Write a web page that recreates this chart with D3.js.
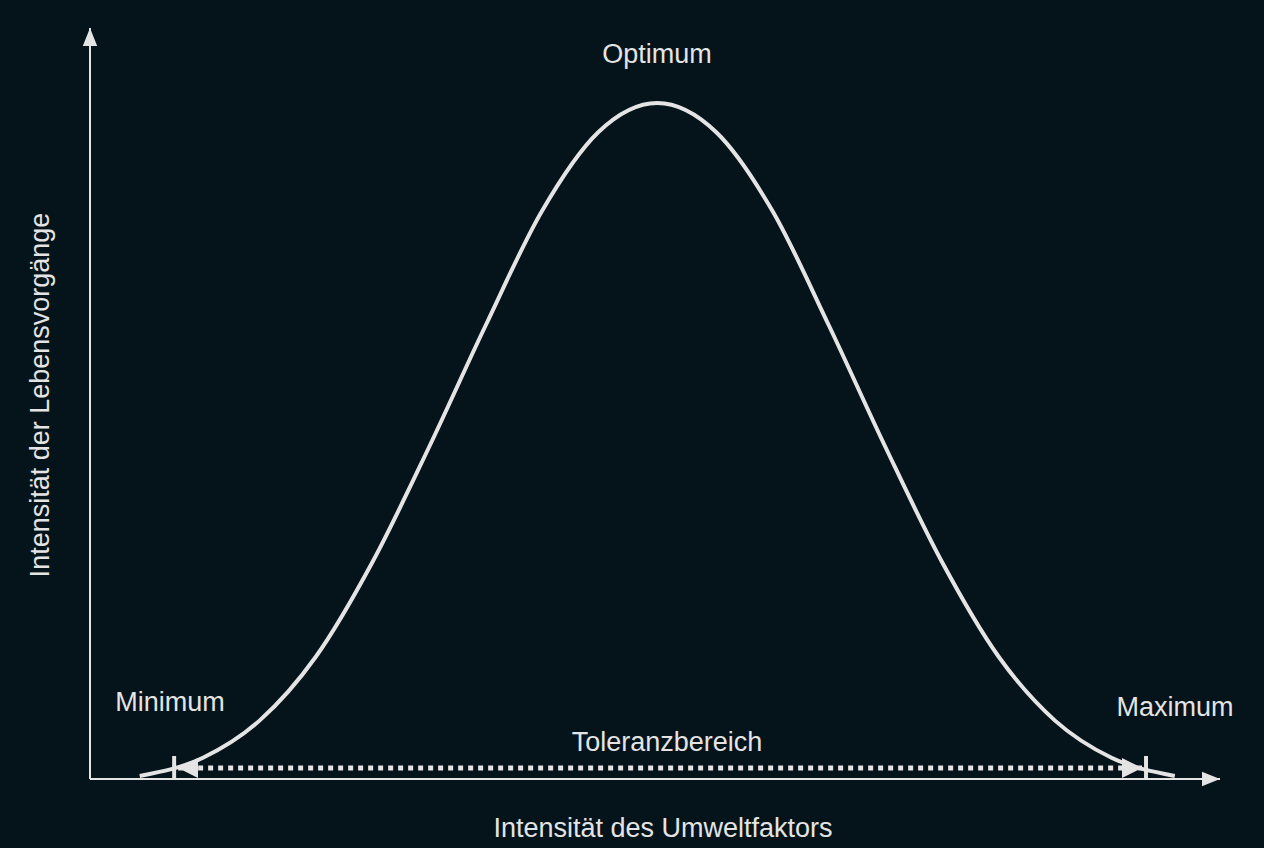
<!DOCTYPE html>
<html><head><meta charset="utf-8">
<script src="https://cdn.jsdelivr.net/npm/d3@7"></script>
<style>body{margin:0;background:#04141a;}svg{display:block}</style>
</head><body>
<script>
const xValues = [4.4, 10, 15, 20, 25, 30, 35, 40, 45, 50.2, 55.4, 60.4, 65.4, 70.4, 75.4, 80.4, 85.4, 90.4, 96];
const yValues = [0.3, 3, 8.5, 18, 32, 49, 67, 84, 95.7, 100, 95.7, 84, 67, 49, 32, 18, 8.5, 3, 0.3];
const toleranceRange = [7.8, 93.1];
const labels = {optimum:"Optimum", minimum:"Minimum", maximum:"Maximum", tol:"Toleranzbereich", xTitle:"Intensität des Umweltfaktors", yTitle:"Intensität der Lebensvorgänge"};

const W=1264,H=848, col="#e4e4e4";
const svg=d3.select("body").append("svg").attr("width",W).attr("height",H);
svg.append("rect").attr("width",W).attr("height",H).attr("fill","#04141a");
const x=d3.scaleLinear().domain([0,100]).range([90,1220]);
const y=d3.scaleLinear().domain([0,100]).range([778,103]);
const defs=svg.append("defs");
defs.append("marker").attr("id","ax").attr("viewBox","0 0 10 10").attr("refX",10).attr("refY",5)
 .attr("markerWidth",18).attr("markerHeight",18).attr("markerUnits","userSpaceOnUse").attr("orient","auto")
 .append("path").attr("d","M0,1 L10,5 L0,9 Z").attr("fill",col);
defs.append("marker").attr("id","tip").attr("viewBox","0 0 10 10").attr("refX",10).attr("refY",5)
 .attr("markerWidth",20).attr("markerHeight",20).attr("markerUnits","userSpaceOnUse").attr("orient","auto-start-reverse")
 .append("path").attr("d","M0,0 L10,5 L0,10 Z").attr("fill",col);
svg.append("line").attr("x1",x(0)).attr("y1",y(0)+1).attr("x2",x(0)).attr("y2",28).attr("stroke",col).attr("stroke-width",2).attr("marker-end","url(#ax)");
svg.append("line").attr("x1",x(0)).attr("y1",y(0)+1).attr("x2",x(100)).attr("y2",y(0)+1).attr("stroke",col).attr("stroke-width",2).attr("marker-end","url(#ax)");
const pts=xValues.map((v,i)=>[v,yValues[i]]);
svg.append("path").datum(pts).attr("d",d3.line().x(d=>x(d[0])).y(d=>y(d[1])).curve(d3.curveMonotoneX))
 .attr("fill","none").attr("stroke",col).attr("stroke-width",4);
const ty=768;
svg.append("line").attr("x1",x(toleranceRange[0])).attr("x2",x(toleranceRange[1])).attr("y1",ty).attr("y2",ty)
 .attr("stroke",col).attr("stroke-width",5).attr("stroke-dasharray","5,5")
 .attr("marker-start","url(#tip)").attr("marker-end","url(#tip)");
toleranceRange.forEach((v,i)=>{const px=x(v)+(i?4:-4);
 svg.append("line").attr("x1",px).attr("x2",px).attr("y1",756).attr("y2",780).attr("stroke",col).attr("stroke-width",4);});
const t=(s,px,py,rot)=>{const e=svg.append("text").text(s).attr("fill",col).attr("font-family","'Liberation Sans', Arial, sans-serif").attr("font-size",27).attr("text-anchor","middle");
 if(rot) e.attr("transform",`translate(${px},${py}) rotate(-90)`); else e.attr("x",px).attr("y",py); return e;};
t(labels.optimum,657,63);
t(labels.minimum,170,711);
t(labels.maximum,1175,716);
t(labels.tol,667,751);
t(labels.xTitle,663,837);
t(labels.yTitle,49,395,true);
</script></body></html>
